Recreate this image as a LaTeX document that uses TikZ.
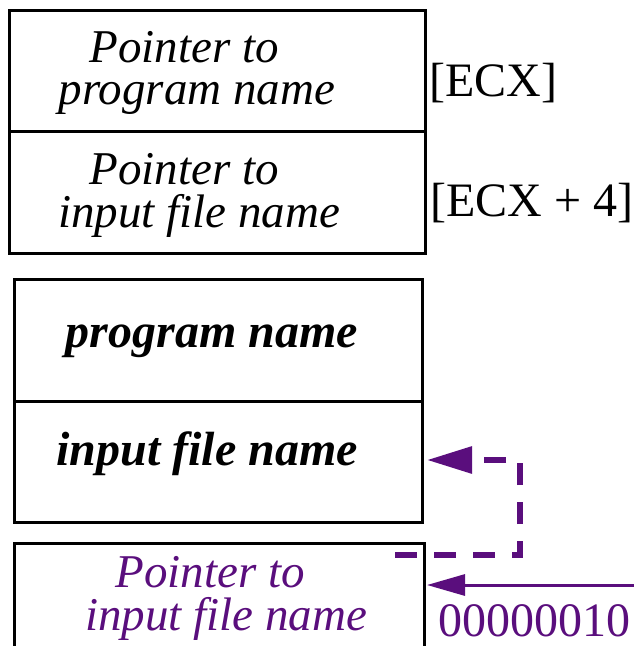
\documentclass[tikz,border=0pt]{standalone}
\usepackage{fontspec}
\setmainfont{Liberation Serif}
\usetikzlibrary{arrows.meta}
\definecolor{ptrpurple}{RGB}{90,14,125}
\begin{document}
\begin{tikzpicture}[x=1pt,y=-1pt,
  cell/.style={draw=black,line width=3pt,minimum width=#1,inner sep=0pt},
  celltext/.style={anchor=base,inner sep=0pt,font=\fontsize{47}{47}\selectfont\itshape},
  firstline/.style={celltext,text depth=0pt},
  boldtext/.style={anchor=base,inner sep=0pt,font=\fontsize{48}{48}\selectfont\bfseries\itshape},
  lab/.style={anchor=base,inner sep=0pt,font=\fontsize{48}{48}\selectfont},
  ptr/.style={color=ptrpurple}]
\useasboundingbox (0,0) rectangle (634,646);
% upper two cells
\node[cell=416pt,minimum height=121pt] (b1) at (217,70.5) {};
\node[cell=416pt,minimum height=122pt] (b2) at (217,192) {};
% lower cells
\node[cell=408pt,minimum height=122pt] (b3) at (218,340) {};
\node[cell=408pt,minimum height=121pt] (b4) at (218,461.5) {};
\draw[line width=3pt] (14,646) -- (14,543) -- (424,543) -- (424,646);
% texts
\node[firstline] (t1a) at (184,62) {Pointer to};
\node[celltext] (t1b) at (197,104) {program name};
\node[firstline] (t2a) at (184,184) {Pointer to};
\node[celltext] (t2b) at (199,227) {input file name};
\node[boldtext] (t3) at (212,347) {program name};
\node[boldtext] (t4) at (207,465) {input file name};
\node[firstline,ptr] (t5a) at (210,587) {Pointer to};
\node[celltext,ptr] (t5b) at (226,630) {input file name};
% labels
\node[lab] (l1) at (493,96) {[ECX]};
\node[lab] (l2) at (532,216) {[ECX + 4]};
\node[lab,ptr] (l3) at (534,636) {00000010};
% arrows
\coordinate (ds) at (395,555);
\coordinate (dc1) at (520,555);
\coordinate (dc2) at (520,460);
\coordinate (dt) at (427,460);
\draw[ptr,line width=6pt,dash pattern=on 22pt off 17pt,
  -{Triangle[length=45pt,width=26pt]}] (ds) -- (dc1) -- (dc2) -- (dt);
\coordinate (ss) at (634,585);
\coordinate (st) at (427,585);
\draw[ptr,line width=3pt,-{Triangle[length=38pt,width=21pt]}] (ss) -- (st);
\end{tikzpicture}
\end{document}
